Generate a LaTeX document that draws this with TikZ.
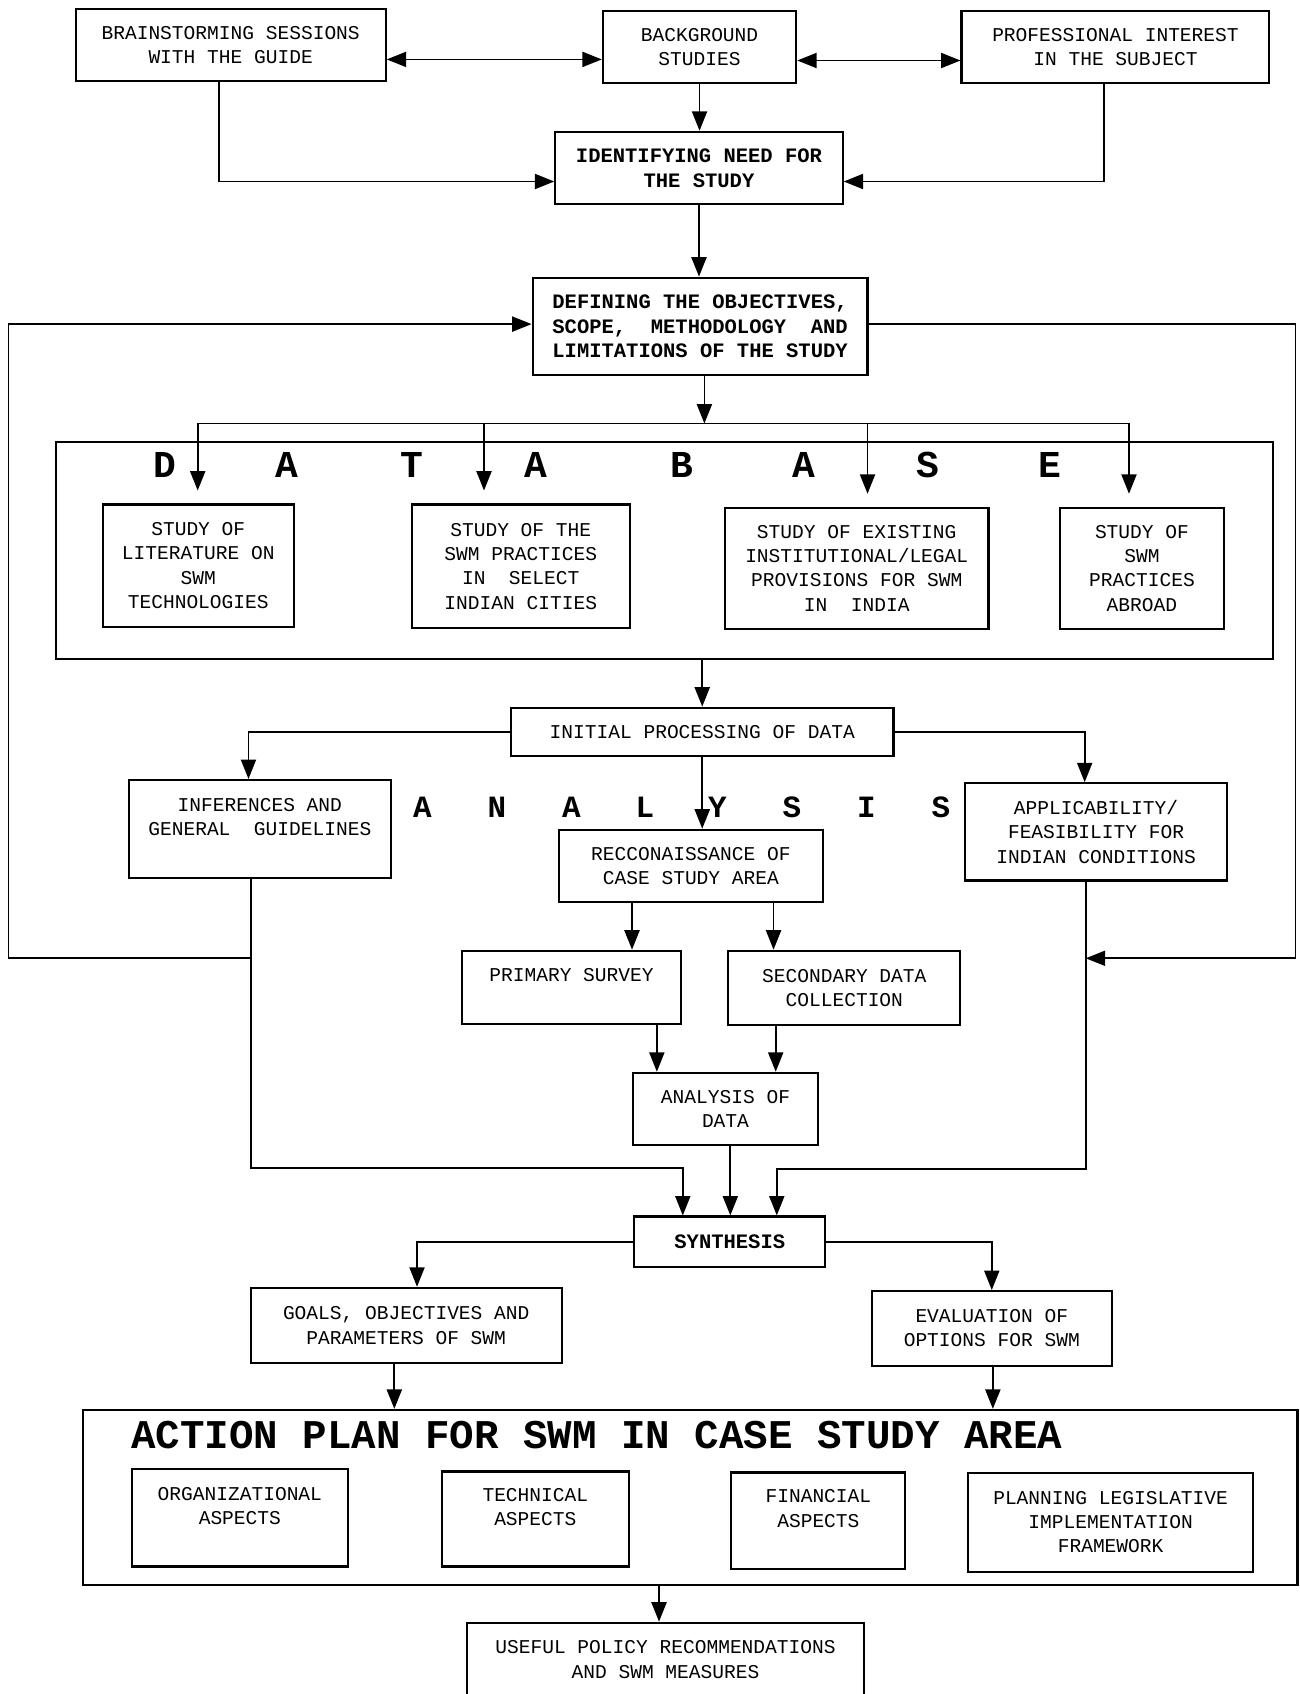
\documentclass[tikz,border=0pt]{standalone}
\usepackage{fontspec}
\setmainfont{Liberation Mono}
\usetikzlibrary{arrows.meta}
\colorlet{linecol}{black}
\colorlet{boxcol}{black}
\colorlet{textcol}{black}
\newcommand{\flowfont}{\fontsize{10.3}{12.8}\selectfont}
\newcommand{\flowboldfont}{\fontsize{10.8}{13.1}\selectfont\bfseries}
\newcommand{\spacedfont}{\fontsize{20}{24}\selectfont\bfseries}
\newcommand{\spacedsmallfont}{\fontsize{16.3}{20}\selectfont\bfseries}
\newcommand{\plantitlefont}{\fontsize{21.5}{24}\selectfont\bfseries}
\tikzset{every node/.style={font=\flowfont, text=textcol}}
\tikzset{
  box/.style={draw=boxcol, line width=1.1pt, align=center, inner sep=0pt},
  boldbox/.style={box, font=\flowboldfont},
  frame/.style={draw=boxcol, line width=1.1pt, inner sep=0pt},
  link/.style={->, line width=0.9pt, draw=linecol},
  twoway/.style={<->, line width=0.9pt, draw=linecol},
}

\begin{document}
\begin{tikzpicture}[x=0.2mm, y=-0.2mm, >={Triangle[length=3.6mm, width=2.8mm]}]

  % Page window.
  \useasboundingbox (0,0) rectangle (1203,1568);

  % Top row.
  \node[box, minimum width=57.4mm, minimum height=13.4mm] (brain) at (213.5,41.5)
    {BRAINSTORMING SESSIONS\\WITH THE GUIDE};
  \node[box, minimum width=35.8mm, minimum height=13.4mm] (backg) at (647.5,43.5)
    {BACKGROUND\\STUDIES};
  \node[box, minimum width=57mm, minimum height=13.4mm] (prof) at (1032.5,43.5)
    {PROFESSIONAL INTEREST\\IN THE SUBJECT};
  \node[boldbox, minimum width=53.2mm, minimum height=13.4mm] (need) at (647,155.5)
    {IDENTIFYING NEED FOR\\THE STUDY};
  \node[boldbox, minimum width=62mm, minimum height=18mm] (define) at (648,302)
    {DEFINING THE OBJECTIVES,\\SCOPE,~~METHODOLOGY~~AND\\LIMITATIONS OF THE STUDY};

  % Links of the top row.
  \draw[twoway] (brain.east |- 0,55) -- (backg.west |- 0,55);
  \draw[twoway] (backg.east |- 0,56) -- (prof.west |- 0,56);
  \draw[link] (backg.south) -- (backg.south |- need.north);
  \draw[link] (brain.south -| 203,0) |- (need.west |- 0,168);
  \draw[link] (prof.south -| 1022,0) |- (need.east |- 0,168);
  \draw[link] (need.south) -- (need.south |- define.north);

  % Database.
  \node[frame, minimum width=225.2mm, minimum height=40.2mm] (dbframe) at (615,509.5) {};
  \foreach \ch/\x [count=\i] in {D/153,A/266,T/381,A/496,B/631,A/744,S/859,E/972} {
    \node[font=\spacedfont] (db\i) at (\x,430) {\ch};
  }
  \node[box, minimum width=35.4mm, minimum height=22.6mm] (lit) at (183.5,523.5)
    {STUDY OF\\LITERATURE ON\\SWM\\TECHNOLOGIES};
  \node[box, minimum width=40.4mm, minimum height=22.8mm] (cities) at (482,524)
    {STUDY OF THE\\SWM PRACTICES\\IN~~SELECT\\INDIAN CITIES};
  \node[box, minimum width=48.8mm, minimum height=22.4mm] (legal) at (793,526)
    {STUDY OF EXISTING\\INSTITUTIONAL/LEGAL\\PROVISIONS FOR SWM\\IN~~INDIA};
  \node[box, minimum width=30.4mm, minimum height=22.4mm] (abroad) at (1057,526)
    {STUDY OF\\SWM\\PRACTICES\\ABROAD};

  % Fan-out into the database.
  \coordinate (dbsplit) at (652,392);
  \draw[link] (define.south -| dbsplit) -- (dbsplit);
  \foreach \n/\x in {lit/183, cities/448, legal/803, abroad/1045} {
    \draw[link, shorten >=2.4mm] (dbsplit) -| (\n.north -| \x,0);
  }

  % Processing and analysis.
  \node[box, minimum width=70.8mm, minimum height=9mm] (initial) at (650,677.5)
    {INITIAL PROCESSING OF DATA};
  \draw[link] (initial.north |- dbframe.south) -- (initial.north);
  \foreach \ch/\x [count=\i] in {A/391,N/460,A/529,L/597,Y/664,S/733,I/802,S/871} {
    \node[font=\spacedsmallfont] (an\i) at (\x,747) {\ch};
  }
  \node[box, minimum width=48.6mm, minimum height=18.2mm] (infer) at (240.5,767.5)
    {INFERENCES AND\\GENERAL~~GUIDELINES\\\mbox{}};
  \node[box, minimum width=48.6mm, minimum height=18mm] (applic) at (1014.5,770)
    {APPLICABILITY/\\FEASIBILITY FOR\\INDIAN CONDITIONS};
  \node[box, minimum width=49mm, minimum height=13.4mm] (recon) at (639.5,801.5)
    {RECCONAISSANCE OF\\CASE STUDY AREA};
  \draw[link] (initial.west) -| (infer.north -| 230,0);
  \draw[link] (initial.east) -| (applic.north -| 1004,0);
  \draw[link] (initial.south) -- (initial.south |- recon.north);

  \node[box, minimum width=40.4mm, minimum height=13.6mm] (primary) at (529,914)
    {PRIMARY SURVEY\\\mbox{}};
  \node[box, minimum width=43mm, minimum height=13.8mm] (second) at (781.5,914.5)
    {SECONDARY DATA\\COLLECTION};
  \draw[link] (recon.south -| 585,0) -- (primary.north -| 585,0);
  \draw[link] (recon.south -| 716,0) -- (second.north -| 716,0);
  \node[box, minimum width=34.2mm, minimum height=13.4mm] (anadata) at (671.5,1026.5)
    {ANALYSIS OF\\DATA};
  \draw[link] (primary.south -| 608,0) -- (anadata.north -| 608,0);
  \draw[link] (second.south -| 718,0) -- (anadata.north -| 718,0);

  % Feedback loops round the definition box.
  \coordinate (backl) at (232,887);
  \coordinate (backr) at (1005,887);
  \draw[link] (backl) -- (8,887) |- (define.west |- 0,300);
  \draw[link] (define.east |- 0,300) -| (1199,887) -- (backr);

  % Synthesis.
  \node[boldbox, minimum width=35.4mm, minimum height=9.4mm] (synth) at (675.5,1149.5)
    {SYNTHESIS};
  \draw[link] (anadata.south -| 676,0) -- (synth.north -| 676,0);
  \draw[link] (infer.south -| 232,0) |- (632,1081) -- (synth.north -| 632,0);
  \draw[link] (applic.south -| 1005,0) |- (719,1082) -- (synth.north -| 719,0);

  % Outcomes.
  \node[box, minimum width=57.6mm, minimum height=14mm] (goals) at (376,1227)
    {GOALS, OBJECTIVES AND\\PARAMETERS OF SWM};
  \node[box, minimum width=44.4mm, minimum height=13.8mm] (evalu) at (918,1229.5)
    {EVALUATION OF\\OPTIONS FOR SWM};
  \draw[link] (synth.west) -| (goals.north -| 386,0);
  \draw[link] (synth.east) -| (evalu.north);

  % Action plan.
  \node[frame, minimum width=224.8mm, minimum height=32.4mm] (action) at (639,1386) {};
  \node[font=\plantitlefont] (plantitle) at (552.5,1328)
    {ACTION PLAN FOR SWM IN CASE STUDY AREA};
  \draw[link] (goals.south -| 365,0) -- (action.north -| 365,0);
  \draw[link] (evalu.south -| 919,0) -- (action.north -| 919,0);
  \node[box, minimum width=40mm, minimum height=18mm] (org) at (222,1405)
    {ORGANIZATIONAL\\ASPECTS\\\mbox{}};
  \node[box, minimum width=34.6mm, minimum height=17.6mm] (tech) at (495.5,1406)
    {TECHNICAL\\ASPECTS\\\mbox{}};
  \node[box, minimum width=32.2mm, minimum height=17.8mm] (fin) at (757.5,1407.5)
    {FINANCIAL\\ASPECTS\\\mbox{}};
  \node[box, minimum width=52.8mm, minimum height=18.4mm] (plan) at (1028,1409)
    {PLANNING LEGISLATIVE\\IMPLEMENTATION\\FRAMEWORK};

  % Final outcome.
  \node[box, minimum width=73.6mm, minimum height=13.6mm] (useful) at (616,1536)
    {USEFUL POLICY RECOMMENDATIONS\\AND SWM MEASURES};
  \draw[link] (action.south -| 610,0) -- (useful.north -| 610,0);

\end{tikzpicture}
\end{document}
